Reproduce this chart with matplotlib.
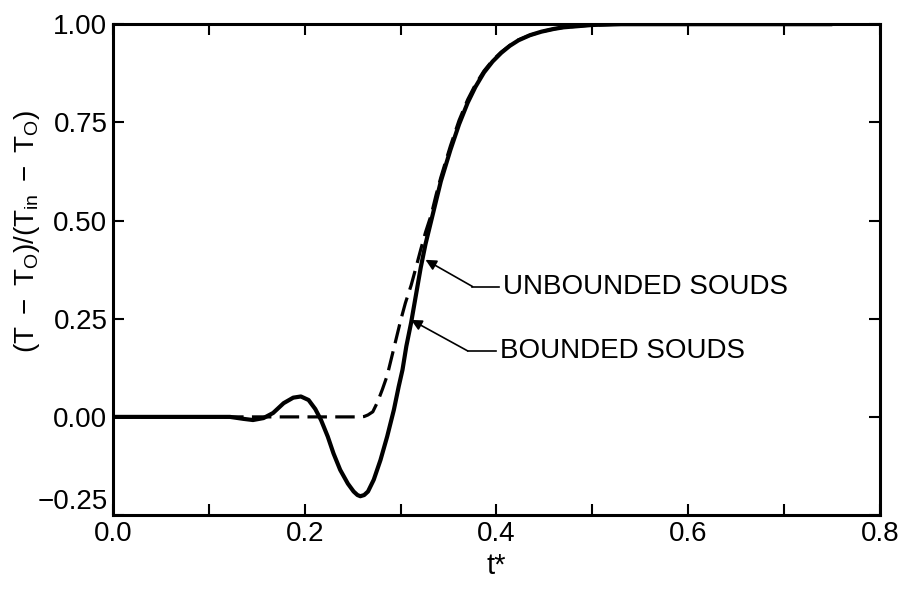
import numpy as np
import matplotlib
matplotlib.use("Agg")
import matplotlib.pyplot as plt

plt.rcParams['font.family'] = ['Liberation Sans', 'DejaVu Sans']
plt.rcParams['mathtext.fontset'] = 'custom'
plt.rcParams['mathtext.rm'] = 'Liberation Sans'
plt.rcParams['mathtext.it'] = 'Liberation Sans'
plt.rcParams['lines.scale_dashes'] = False

# bounded solids (solid line)
t_bounded = [0.0, 0.05, 0.10, 0.122, 0.136, 0.146, 0.157, 0.167, 0.178, 0.188,
             0.196, 0.204, 0.211, 0.217, 0.224, 0.230, 0.237, 0.245, 0.251,
             0.255, 0.258, 0.262, 0.266, 0.272, 0.279, 0.286, 0.293, 0.298,
             0.302, 0.306, 0.311, 0.316, 0.321, 0.326, 0.332, 0.337, 0.342,
             0.347, 0.352, 0.361, 0.370, 0.378, 0.387, 0.396, 0.405, 0.414,
             0.423, 0.435, 0.447, 0.460, 0.470, 0.485, 0.500, 0.530, 0.650,
             0.750]
y_bounded = [0.0, 0.0, 0.0, 0.0, -0.005, -0.008, -0.003, 0.01, 0.035, 0.049,
             0.052, 0.043, 0.02, -0.008, -0.05, -0.093, -0.135, -0.17, -0.19,
             -0.199, -0.202, -0.199, -0.19, -0.16, -0.11, -0.05, 0.018, 0.077,
             0.12, 0.18, 0.24, 0.31, 0.38, 0.44, 0.50, 0.55, 0.60,
             0.64, 0.68, 0.745, 0.80, 0.84, 0.877, 0.905, 0.927, 0.945,
             0.959, 0.972, 0.981, 0.988, 0.992, 0.995, 0.998, 1.0, 1.0,
             1.0]

# unbounded solids (dashed line)
t_unbounded = [0.0, 0.10, 0.20, 0.258, 0.262, 0.266, 0.271, 0.276, 0.281,
               0.286, 0.290, 0.295, 0.300, 0.305, 0.311, 0.316, 0.321, 0.326,
               0.332, 0.337, 0.342, 0.347, 0.352, 0.361, 0.370, 0.378, 0.387,
               0.396, 0.405, 0.414, 0.423, 0.435, 0.447, 0.460, 0.470, 0.485,
               0.500, 0.530, 0.650, 0.750]
y_unbounded = [0.0, 0.0, 0.0, 0.0, 0.001, 0.005, 0.013, 0.038, 0.07,
               0.105, 0.145, 0.195, 0.245, 0.29, 0.335, 0.38, 0.426, 0.47,
               0.515, 0.565, 0.61, 0.65, 0.69, 0.755, 0.808, 0.846, 0.881,
               0.908, 0.929, 0.946, 0.960, 0.972, 0.981, 0.988, 0.992, 0.995,
               0.998, 1.0, 1.0, 1.0]

fig = plt.figure(figsize=(9, 5.9), dpi=100)
ax = fig.add_axes([0.1256, 0.127, 0.852, 0.832])

ax.plot(t_unbounded, y_unbounded, color='black', lw=2.3, dashes=(14, 6))
ax.plot(t_bounded, y_bounded, color='black', lw=3.0,
        solid_capstyle='round', solid_joinstyle='round')

ax.set_xlim(0.0, 0.8)
ax.set_ylim(-0.25, 1.0)
ax.set_xticks(np.arange(0, 0.81, 0.2))
ax.set_xticks(np.arange(0.1, 0.8, 0.2), minor=True)
ax.set_yticks(np.arange(-0.25, 1.01, 0.25))
ax.set_xticklabels(['0.0', '0.2', '0.4', '0.6', '0.8'])
ax.set_yticklabels(['\u22120.25', '0.00', '0.25', '0.50', '0.75', '1.00'])
ax.tick_params(which='both', direction='in', top=True, right=True,
               length=8, width=1.5, labelsize=20, pad=4)
for s in ax.spines.values():
    s.set_linewidth(2.2)
ax.get_yticklabels()[0].set_va('bottom')

ax.set_xlabel('t*', fontsize=21, labelpad=4)
ax.set_ylabel(r'$\mathregular{(T\ -\ T_O)/(T_{in}\ -\ T_O)}$', fontsize=20)
ax.yaxis.set_label_coords(-0.092, 0.578)

# leader lines with arrows
labels = ['UNBOUNDED SOUDS', 'BOUNDED SOUDS']
tips = [(0.326, 0.40), (0.311, 0.247)]
elbows = [(0.375, 0.332), (0.370, 0.168)]
ends = [0.403, 0.400]
for lab, tip, elb, xe in zip(labels, tips, elbows, ends):
    ax.plot([elb[0], xe], [elb[1], elb[1]], color='black', lw=1.2)
    ax.annotate('', xy=tip, xytext=elb,
                arrowprops=dict(arrowstyle='-|>', color='black', lw=1.2,
                                mutation_scale=16, shrinkA=0, shrinkB=0))
    ax.text(xe + 0.004, elb[1], lab, fontsize=20, va='center', ha='left')

fig.savefig('out.png', dpi=100)
